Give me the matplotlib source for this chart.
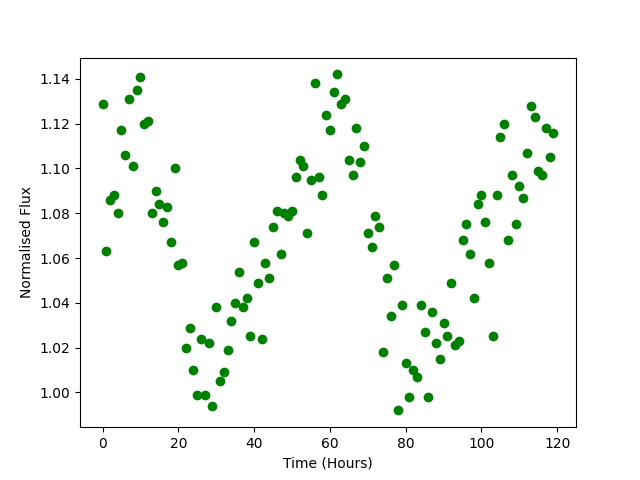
import numpy as np
import matplotlib
matplotlib.use('Agg')
import matplotlib.pyplot as plt

# hourly samples
time_hours = np.arange(120)

flux = [
    1.129, 1.063, 1.086, 1.088, 1.080, 1.117, 1.106, 1.131, 1.101, 1.135,
    1.141, 1.120, 1.121, 1.080, 1.090, 1.084, 1.076, 1.083, 1.067, 1.100,
    1.057, 1.058, 1.020, 1.029, 1.010, 0.999, 1.024, 0.999, 1.022, 0.994,
    1.038, 1.005, 1.009, 1.019, 1.032, 1.040, 1.054, 1.038, 1.042, 1.025,
    1.067, 1.049, 1.024, 1.058, 1.051, 1.074, 1.081, 1.062, 1.080, 1.079,
    1.081, 1.096, 1.104, 1.101, 1.071, 1.095, 1.138, 1.096, 1.088, 1.124,
    1.117, 1.134, 1.142, 1.129, 1.131, 1.104, 1.097, 1.118, 1.103, 1.110,
    1.071, 1.065, 1.079, 1.074, 1.018, 1.051, 1.034, 1.057, 0.992, 1.039,
    1.013, 0.998, 1.010, 1.007, 1.039, 1.027, 0.998, 1.036, 1.022, 1.015,
    1.031, 1.025, 1.049, 1.021, 1.023, 1.068, 1.075, 1.062, 1.042, 1.084,
    1.088, 1.076, 1.058, 1.025, 1.088, 1.114, 1.120, 1.068, 1.097, 1.075,
    1.092, 1.087, 1.107, 1.128, 1.123, 1.099, 1.097, 1.118, 1.105, 1.116,
]

plt.figure(figsize=(6.4, 4.8), dpi=100)
plt.plot(time_hours, flux, 'o', color='green')
plt.xlabel('Time (Hours)')
plt.ylabel('Normalised Flux')
plt.savefig('out.png')
